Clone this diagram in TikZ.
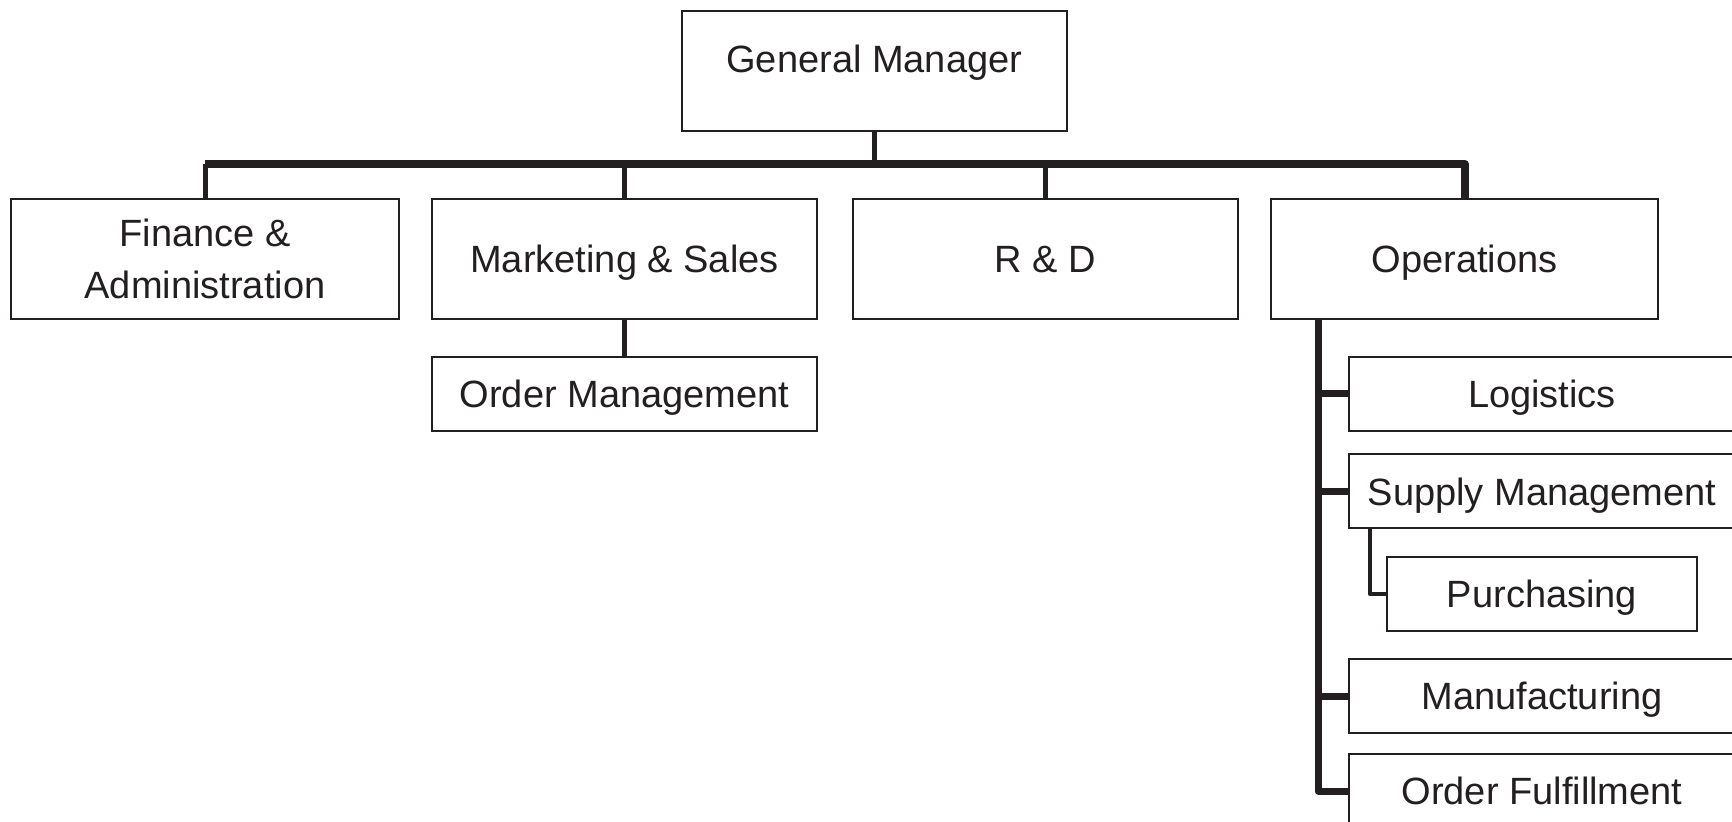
\documentclass[tikz,border=0pt]{standalone}
\usepackage{fontspec}
\setmainfont{Liberation Sans}
\definecolor{ink}{HTML}{231F20}
\tikzset{
  box/.style={draw=ink, line width=1pt, rectangle, inner sep=0pt, text=ink,
    font=\fontsize{19}{26}\selectfont, text height=13.6pt, text depth=0pt},
  twoline/.style={draw=ink, line width=1pt, rectangle, inner sep=0pt, text=ink,
    font=\fontsize{19}{26}\selectfont, align=center, minimum height=60pt},
  bigbox/.style={box, minimum height=60pt},
  smallbox/.style={box, minimum height=37pt},
  busline/.style={draw=ink, line width=4pt, line join=round},
  drop/.style={draw=ink, line width=2.5pt},
  opsline/.style={draw=ink, line width=3.5pt, line join=round},
  subline/.style={draw=ink, line width=2.2pt, line join=round},
  lbl/.style={text=ink, font=\fontsize{19}{26}\selectfont, inner sep=0pt,
    text height=13.6pt, text depth=0pt}
}
\begin{document}
\begin{tikzpicture}[x=0.5pt,y=-0.5pt]
\useasboundingbox (0,0) rectangle (1732,822);
\clip (0,0) rectangle (1732,822);
% top
\node[bigbox, minimum width=192.75pt] (gm) at (874.25,71) {};
\node[lbl] (gmt) at (874.25,59) {General Manager};
% level 2
\node[twoline, minimum width=194pt] (fin) at (205,259) {Finance \&\\Administration};
\node[bigbox, minimum width=192.5pt] (mkt) at (624.5,259) {Marketing \& Sales};
\node[bigbox, minimum width=192.5pt] (rd) at (1045.5,259) {R \& D};
\node[bigbox, minimum width=193.5pt] (ops) at (1464.5,259) {Operations};
\node[smallbox, minimum width=192.5pt] (om) at (624.5,394) {Order Management};
% operations children
\node[smallbox, minimum width=193pt] (log) at (1542,394) {Logistics};
\node[smallbox, minimum width=193pt] (sup) at (1542,491.5) {Supply Management};
\node[smallbox, minimum width=155pt] (pur) at (1542,594) {Purchasing};
\node[smallbox, minimum width=193pt] (man) at (1542,696) {Manufacturing};
\node[smallbox, minimum width=193pt] (of) at (1542,791) {Order Fulfillment};
% connectors
\coordinate (bus) at (874,164);
\coordinate (opsx) at (1318,319);
\coordinate (supx) at (1370,528);
\draw[drop] (gm.south) -- (gm.south |- bus);
\draw[drop] (fin.north |- bus) -- (fin.north);
\draw[drop] (mkt.north |- bus) -- (mkt.north);
\draw[drop] (rd.north |- bus) -- (rd.north);
\draw[busline] (fin.north |- bus) -- (ops.north |- bus) -- (ops.north);
\draw[drop] (mkt.south) -- (om.north);
\draw[opsline] (opsx) |- (of.west);
\draw[opsline] (opsx |- log.west) -- (log.west);
\draw[opsline] (opsx |- sup.west) -- (sup.west);
\draw[opsline] (opsx |- man.west) -- (man.west);
\draw[subline] (supx) |- (pur.west);
\end{tikzpicture}
\end{document}
